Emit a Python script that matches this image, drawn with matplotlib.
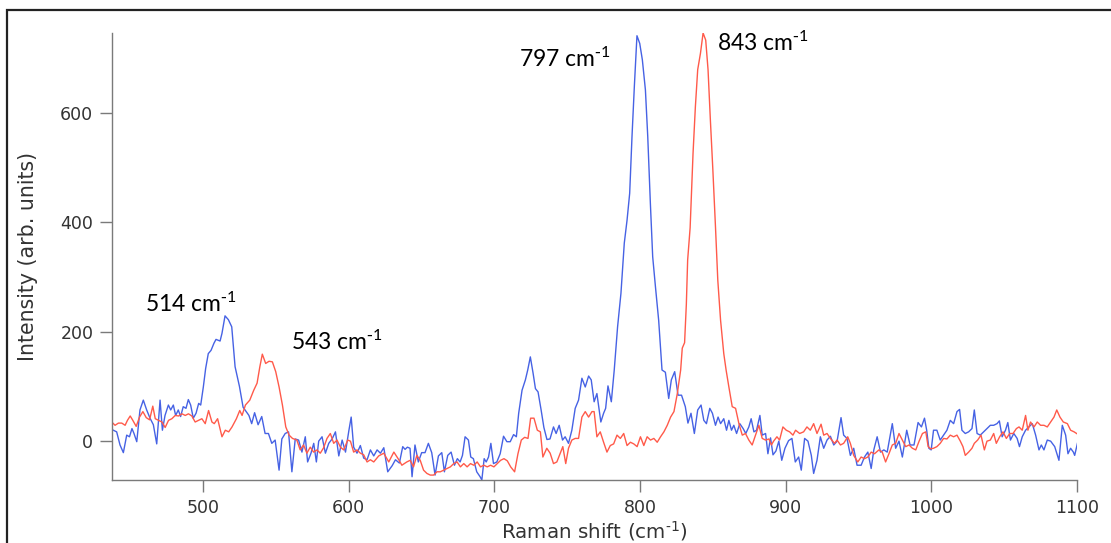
import matplotlib
matplotlib.use("Agg")
import matplotlib.pyplot as plt
from matplotlib.patches import Rectangle

# ---- data: blue spectrum (Raman shift cm-1, intensity) ----
blue_x = [438.4, 440.7, 443.0, 445.3, 447.6, 449.5, 451.2, 452.6, 454.5, 456.7, 459.0, 461.3, 463.6, 465.9,
          468.2, 470.5, 472.1, 473.9, 476.2, 477.8, 479.6, 481.2, 483.0, 484.6, 486.4, 488.3, 489.9, 491.5,
          493.3, 495.2, 497.0, 498.4, 500.2, 501.8, 503.6, 505.5, 507.5, 508.9, 511.7, 513.0, 515.1, 517.4,
          519.7, 522.0, 525.0, 527.5, 531.5, 533.4, 535.4, 537.8, 540.3, 542.6, 544.9, 547.2, 549.5, 552.2,
          554.1, 556.4, 558.7, 561.0, 563.3, 565.6, 567.9, 570.2, 571.8, 574.1, 576.0, 577.8, 579.4, 581.7,
          584.0, 586.3, 588.6, 590.9, 593.2, 595.5, 597.8, 600.1, 601.7, 603.4, 605.7, 608.0, 610.3, 612.6,
          614.9, 617.2, 619.5, 621.8, 624.1, 626.8, 629.8, 632.1, 634.8, 637.1, 638.7, 640.3, 642.1, 643.5,
          645.5, 647.8, 650.1, 652.4, 654.7, 657.0, 659.3, 661.6, 663.9, 665.7, 668.0, 670.3, 672.6, 674.6,
          676.5, 678.1, 679.9, 682.2, 683.8, 685.6, 687.9, 690.2, 691.4, 693.0, 694.4, 696.0, 697.6, 699.4,
          701.7, 704.0, 706.3, 708.6, 710.9, 713.2, 715.1, 716.7, 719.0, 721.3, 722.9, 724.7, 726.6, 728.2,
          730.0, 732.1, 734.0, 736.1, 738.2, 740.6, 742.4, 744.5, 746.8, 748.6, 750.9, 753.2, 755.5, 757.8,
          760.1, 762.4, 764.7, 766.5, 768.5, 770.4, 773.1, 775.0, 776.4, 778.0, 780.3, 782.3, 784.6, 786.9,
          789.2, 791.1, 792.9, 794.5, 796.1, 797.9, 799.8, 801.6, 803.7, 805.3, 807.1, 808.7, 810.6, 812.8,
          815.1, 817.4, 819.7, 821.5, 823.8, 826.1, 828.5, 831.1, 832.9, 835.0, 837.3, 839.6, 841.9, 843.8,
          845.6, 847.9, 849.7, 851.8, 853.6, 855.3, 857.5, 859.4, 861.0, 862.8, 864.4, 866.3, 868.5, 870.8,
          872.6, 874.7, 876.3, 878.2, 880.0, 882.3, 883.9, 886.2, 887.8, 889.6, 891.3, 893.3, 895.3, 897.3,
          899.5, 902.0, 904.3, 906.6, 908.9, 910.7, 913.0, 915.3, 917.6, 919.2, 921.5, 923.8, 926.1, 928.4,
          930.7, 933.0, 935.3, 938.0, 939.8, 942.1, 944.4, 946.7, 949.0, 951.8, 954.1, 956.4, 958.7, 960.5,
          962.8, 965.1, 967.4, 969.7, 973.2, 975.5, 977.8, 980.1, 983.1, 985.4, 988.1, 990.9, 993.2, 995.3,
          996.8, 998.3, 999.9, 1001.5, 1003.8, 1006.1, 1008.4, 1010.7, 1013.0, 1015.3, 1017.6, 1019.4, 1021.0,
          1023.3, 1025.6, 1027.9, 1029.5, 1031.4, 1033.6, 1035.9, 1038.2, 1040.5, 1042.8, 1045.1, 1046.7,
          1048.6, 1050.9, 1052.5, 1054.3, 1056.6, 1058.9, 1060.5, 1062.4, 1064.7, 1067.0, 1069.3, 1071.6,
          1073.9, 1075.5, 1077.3, 1079.6, 1081.9, 1084.7, 1087.6, 1089.9, 1092.2, 1093.8, 1095.6, 1097.5,
          1098.4, 1100.3]
blue_y = [20, 17, -7, -21, 11, 8, 23, 14, -1, 57, 75, 57, 42, 30,
          -5, 75, 20, 47, 66, 57, 66, 47, 57, 45, 63, 60, 76, 66,
          42, 51, 69, 66, 99, 133, 160, 166, 179, 186, 183, 197, 229, 222,
          209, 136, 100, 62, 47, 32, 52, 30, 45, 14, 14, -4, 2, -53,
          4, 14, 17, -56, 4, 2, -20, 8, -38, -22, -4, -38, 0, 8,
          -22, -4, 4, 17, -27, 2, -20, 19, 44, -11, -22, -8, -31, -34,
          -16, -27, -16, -22, -12, -56, -45, -34, -40, -10, -15, -11, -13, -65,
          -7, -38, -21, -21, -4, -21, -62, -27, -21, -56, -26, -20, -44, -32,
          -38, -26, 8, 2, -29, -32, -56, -65, -71, -32, -38, -29, -4, -41,
          -38, -23, 9, -1, -1, 12, 8, 51, 93, 112, 130, 154, 124, 96,
          90, 57, 25, 3, 4, 26, 14, 29, 2, 8, -4, 20, 60, 75,
          115, 99, 119, 112, 72, 87, 35, 51, 60, 101, 72, 130, 209, 270,
          362, 404, 453, 557, 648, 741, 727, 697, 642, 557, 435, 337, 282, 221,
          130, 126, 78, 112, 127, 84, 84, 63, 33, 51, 14, 57, 66, 38,
          32, 60, 51, 29, 44, 32, 41, 20, 38, 20, 29, 14, 32, 23,
          14, 26, 41, 17, 20, 47, 11, 14, -23, 6, -25, -18, 0, -35,
          -13, 1, 5, -38, -29, -53, 5, 0, -26, -59, -35, 8, -13, 2,
          9, -7, 0, 43, 11, 5, -26, -13, -44, -44, -29, -20, -50, -16,
          8, -20, -16, -20, 32, -13, 0, -29, 20, -7, -7, 34, 26, 42,
          20, -13, -16, 20, 20, 2, 11, 20, 38, 32, 54, 58, 20,
          14, 17, 23, 57, 14, 11, 17, 23, 29, 29, 32, 37,
          8, 20, 34, 2, 14, 5, -10, 8, 20, 26, 32, 11,
          -16, -7, -16, 2, 0, -10, -35, 29, 11, -23, -13, -20,
          -26, -4]

# ---- data: red spectrum ----
red_x = [437.3, 439.6, 441.9, 444.2, 446.5, 448.1, 450.0, 451.8, 454.1, 456.4, 458.7, 461.0, 463.3, 465.5,
         467.2, 469.5, 471.8, 474.0, 476.3, 478.6, 480.9, 483.2, 485.5, 487.8, 490.0, 492.3, 494.6, 496.9,
         499.2, 501.5, 503.8, 506.1, 507.7, 510.0, 513.0, 515.3, 517.6, 519.9, 522.9, 525.2, 526.8, 529.1,
         532.1, 534.8, 537.1, 539.0, 540.7, 543.0, 545.3, 547.6, 549.9, 552.2, 554.5, 556.8, 559.1, 561.4,
         564.4, 566.7, 569.0, 571.3, 573.6, 575.9, 578.2, 580.5, 582.8, 585.1, 587.4, 589.7, 592.0, 594.3,
         596.6, 599.3, 601.2, 603.4, 605.7, 608.0, 610.3, 612.6, 614.9, 617.2, 620.6, 624.1, 627.5, 631.0,
         634.4, 636.5, 639.9, 642.2, 644.5, 646.8, 649.1, 651.4, 653.7, 656.0, 658.3, 660.6, 662.9, 665.2,
         667.5, 669.8, 672.1, 674.4, 676.7, 679.0, 681.3, 683.6, 685.9, 688.2, 690.5, 692.8, 695.1, 697.4,
         699.7, 702.0, 704.3, 706.6, 708.9, 711.2, 713.9, 716.2, 718.5, 720.8, 723.1, 724.9, 727.2, 729.5,
         731.6, 733.3, 736.0, 738.3, 740.6, 742.9, 745.2, 747.0, 749.0, 750.9, 753.2, 755.5, 757.8, 760.1,
         762.4, 764.7, 767.0, 768.5, 770.4, 772.7, 775.0, 777.3, 779.6, 781.9, 784.2, 786.5, 788.8, 791.1,
         793.4, 795.7, 798.0, 800.3, 802.6, 804.9, 807.2, 809.5, 811.8, 814.1, 816.4, 818.7, 821.0, 823.3,
         825.6, 827.9, 829.0, 830.6, 831.8, 832.7, 834.4, 836.4, 838.0, 839.6, 841.5, 843.3, 845.1, 846.7,
         848.3, 850.0, 851.8, 853.4, 855.3, 857.5, 859.1, 861.0, 863.3, 865.6, 867.9, 870.2, 872.4, 874.7,
         877.0, 879.3, 881.6, 883.9, 886.2, 888.5, 890.2, 891.7, 894.0, 895.8, 898.1, 900.4, 902.7, 905.0,
         906.8, 909.6, 912.3, 914.6, 916.9, 919.2, 921.5, 924.3, 926.1, 928.4, 930.7, 933.5, 935.3, 937.6,
         939.8, 942.6, 944.4, 946.7, 949.5, 951.8, 954.1, 956.4, 958.7, 961.0, 964.0, 966.3, 968.6, 970.9,
         973.2, 975.5, 977.8, 980.1, 982.4, 984.7, 987.0, 989.3, 991.6, 993.9, 996.2, 997.8, 999.6, 1001.5,
         1003.8, 1006.1, 1008.4, 1010.7, 1013.0, 1015.3, 1017.6, 1019.9, 1021.7, 1023.3, 1025.6, 1027.9,
         1029.5, 1031.8, 1034.1, 1036.4, 1038.2, 1040.5, 1042.8, 1044.6, 1046.9, 1049.2, 1051.5, 1053.8,
         1056.1, 1058.4, 1060.2, 1062.4, 1064.7, 1066.3, 1068.1, 1070.5, 1072.7, 1075.0, 1077.3, 1079.6,
         1081.9, 1084.2, 1086.1, 1088.3, 1090.6, 1093.4, 1095.6, 1098.0, 1100.3]
red_y = [35, 29, 33, 33, 29, 38, 46, 38, 27, 44, 54, 43, 39, 64,
         41, 38, 35, 25, 38, 41, 47, 46, 50, 47, 50, 46, 35, 38,
         41, 32, 56, 35, 32, 41, 8, 20, 17, 26, 41, 56, 47, 66,
         75, 93, 106, 136, 159, 142, 146, 145, 127, 99, 66, 26, 11, 5,
         2, -16, -7, -22, -11, -20, -16, -22, -12, 5, 14, -4, 2, -11,
         -16, 2, 0, -20, -16, -22, -25, -38, -34, -38, -27, -22, -38, -20,
         -34, -44, -38, -35, -47, -26, -35, -53, -59, -62, -62, -56, -56, -53,
         -50, -47, -41, -38, -47, -41, -47, -41, -44, -38, -47, -44, -47, -44,
         -47, -41, -35, -32, -36, -47, -56, -23, 2, 7, 5, 42, 42, 20,
         17, -29, -13, -22, -41, -38, -22, -10, -41, -13, 2, 5, 5, 44,
         54, 44, 54, 54, 8, 17, -2, -20, -8, -5, 11, 5, 14, -8,
         -2, -5, -10, 8, -8, 8, 2, 5, -2, 8, 17, 29, 44, 54,
         87, 130, 170, 180, 250, 331, 390, 526, 611, 679, 709, 746, 733, 679,
         587, 496, 392, 294, 221, 160, 130, 99, 63, 60, 32, 11, 14, 2,
         -7, 11, 29, 5, 2, 4, -7, 0, 8, 2, 26, 20, 17, 11,
         20, 14, 17, 26, 20, 32, 14, 31, 11, 14, 5, -4, 2, -7,
         -4, 8, -4, -26, -38, -29, -32, -29, -20, -23, -16, -20, -38, -23,
         -7, -4, 14, 2, -10, -7, -13, -16, 0, 14, 17, -10, -14, -13,
         -10, -4, 5, 4, 11, 8, 11, 0, -10, -26, -20, -13,
         -4, 2, 11, -16, 0, 2, 14, -4, 8, 17, 5, 14,
         14, 23, 26, 20, 47, 20, 35, 26, 35, 29, 29, 26,
         35, 44, 57, 44, 35, 32, 20, 17, 13]

x_ticks = [500, 600, 700, 800, 900, 1000, 1100]
y_ticks = [0, 200, 400, 600]
peak_labels = ["514", "543", "797", "843"]

BLUE = "#4662e4"
RED = "#ff5a4a"
AXC = "#7a7a7a"
TXC = "#333333"

plt.rcParams['mathtext.default'] = 'regular'

fig = plt.figure(figsize=(11.11, 5.43), dpi=100)
ax = fig.add_axes([112 / 1111, (543 - 480) / 543, (1077 - 112) / 1111, (480 - 33) / 543])

ax.plot(blue_x, blue_y, color=BLUE, lw=1.0, solid_joinstyle='round')
ax.plot(red_x, red_y, color=RED, lw=1.0, solid_joinstyle='round')

ax.set_xlim(437.5, 1100)
ax.set_ylim(-71, 746)
ax.set_xticks(x_ticks)
ax.set_yticks(y_ticks)

for s in ['top', 'right']:
    ax.spines[s].set_visible(False)
for s in ['left', 'bottom']:
    ax.spines[s].set_color(AXC)
    ax.spines[s].set_linewidth(1.0)

ax.tick_params(axis='both', direction='out', length=8.5, width=1.0, color=AXC,
               labelcolor=TXC, labelsize=12.5, pad=5)

ax.set_ylabel("Intensity (arb. units)", fontsize=14.8, color=TXC)
ax.yaxis.set_label_coords((38 - 112) / 965, 0.5)
ax.set_xlabel(r"Raman shift (cm$^{\text{-}1}$)", fontsize=14.3, color=TXC)
ax.xaxis.set_label_coords(0.5, (480 - 519) / 447)

# peak annotations
ann_font = dict(family=['Lato', 'DejaVu Sans'], fontsize=16.5, color='black', va='baseline', ha='left')
ann_pos = [(460.2, 236), (560.4, 166), (717.0, 684), (853.0, 713)]
for lab, (tx, ty) in zip(peak_labels, ann_pos):
    ax.text(tx, ty, lab + r" cm$^{\text{-}1}$", **ann_font)

# figure frame (top and left visible)
fig.patches.append(Rectangle((7 / 1111, -0.2), 1.3, 1.2 - 10 / 543,
                             transform=fig.transFigure, fill=False,
                             edgecolor='#222222', linewidth=1.6))

fig.savefig("out.png", dpi=100)
